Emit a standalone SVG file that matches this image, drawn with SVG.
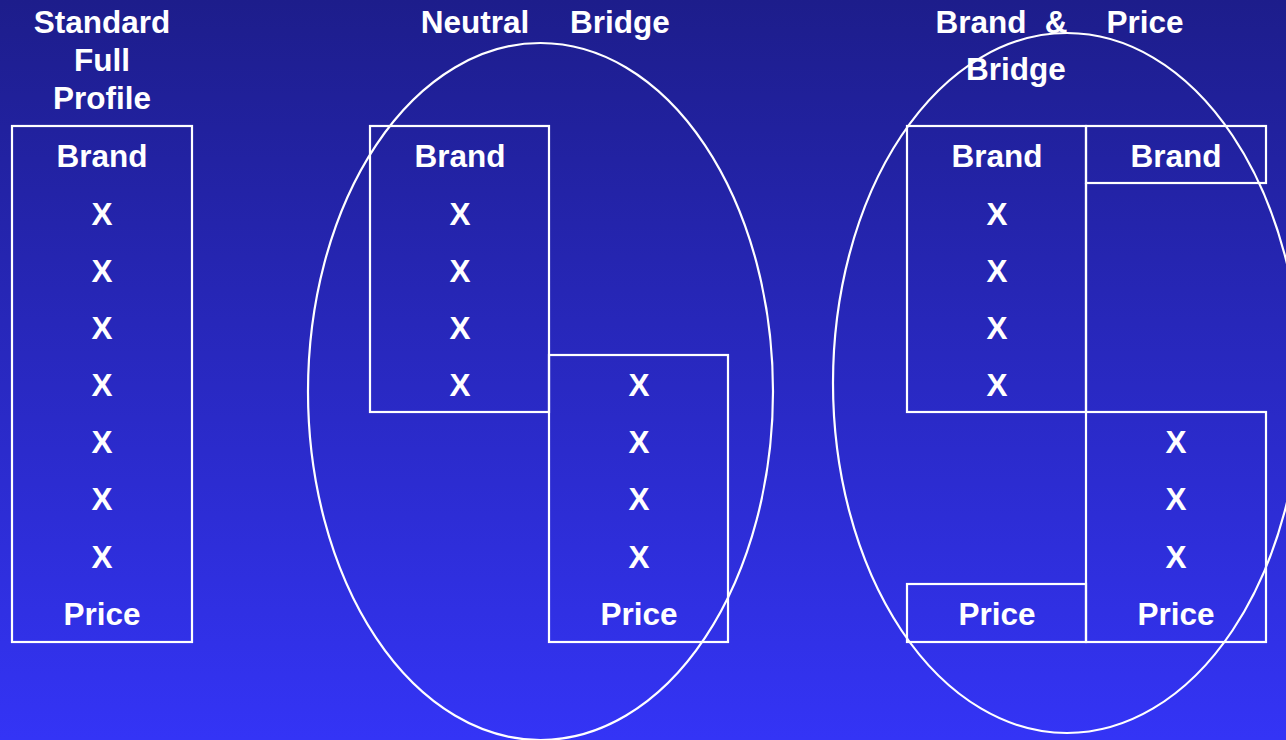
<svg xmlns="http://www.w3.org/2000/svg" width="1286" height="740" viewBox="0 0 1286 740">
<defs>
<linearGradient id="bg" x1="0" y1="0" x2="0" y2="1">
<stop offset="0" stop-color="#1d1d8b"/>
<stop offset="1" stop-color="#3434f6"/>
</linearGradient>
</defs>
<style>
text{font-family:"Liberation Sans",Arial,sans-serif;font-weight:bold;font-size:31.5px;fill:#fff;text-anchor:middle}
.ln{fill:none;stroke:#fff;stroke-width:2.2}
</style>
<rect width="1286" height="740" fill="url(#bg)"/>
<g id="titles">
<text x="102" y="33">Standard</text>
<text x="102" y="71">Full</text>
<text x="102" y="109">Profile</text>
<text x="475" y="33">Neutral</text>
<text x="620" y="33">Bridge</text>
<text x="981" y="33">Brand</text>
<text x="1056" y="33">&amp;</text>
<text x="1145" y="33">Price</text>
<text x="1016" y="80">Bridge</text>
</g>
<g id="standard">
<rect class="ln" x="12" y="126" width="180" height="516"/>
<text x="102" y="167">Brand</text>
<text x="102" y="225">X</text>
<text x="102" y="282">X</text>
<text x="102" y="339">X</text>
<text x="102" y="396">X</text>
<text x="102" y="453">X</text>
<text x="102" y="510">X</text>
<text x="102" y="568">X</text>
<text x="102" y="625">Price</text>
</g>
<g id="neutral">
<ellipse class="ln" cx="540.5" cy="391.5" rx="232.5" ry="348.5"/>
<rect class="ln" x="370" y="126" width="179" height="286"/>
<rect class="ln" x="549" y="355" width="179" height="287"/>
<text x="460" y="167">Brand</text>
<text x="460" y="225">X</text>
<text x="460" y="282">X</text>
<text x="460" y="339">X</text>
<text x="460" y="396">X</text>
<text x="639" y="396">X</text>
<text x="639" y="453">X</text>
<text x="639" y="510">X</text>
<text x="639" y="568">X</text>
<text x="639" y="625">Price</text>
</g>
<g id="brandprice">
<ellipse class="ln" cx="1067" cy="383" rx="234" ry="350"/>
<rect class="ln" x="907" y="126" width="179" height="286"/>
<rect class="ln" x="1086" y="126" width="180" height="57"/>
<rect class="ln" x="1086" y="412" width="180" height="230"/>
<rect class="ln" x="907" y="584" width="179" height="58"/>
<line class="ln" x1="1086" y1="183" x2="1086" y2="412"/>
<text x="997" y="167">Brand</text>
<text x="1176" y="167">Brand</text>
<text x="997" y="225">X</text>
<text x="997" y="282">X</text>
<text x="997" y="339">X</text>
<text x="997" y="396">X</text>
<text x="1176" y="453">X</text>
<text x="1176" y="510">X</text>
<text x="1176" y="568">X</text>
<text x="997" y="625">Price</text>
<text x="1176" y="625">Price</text>
</g>
</svg>
